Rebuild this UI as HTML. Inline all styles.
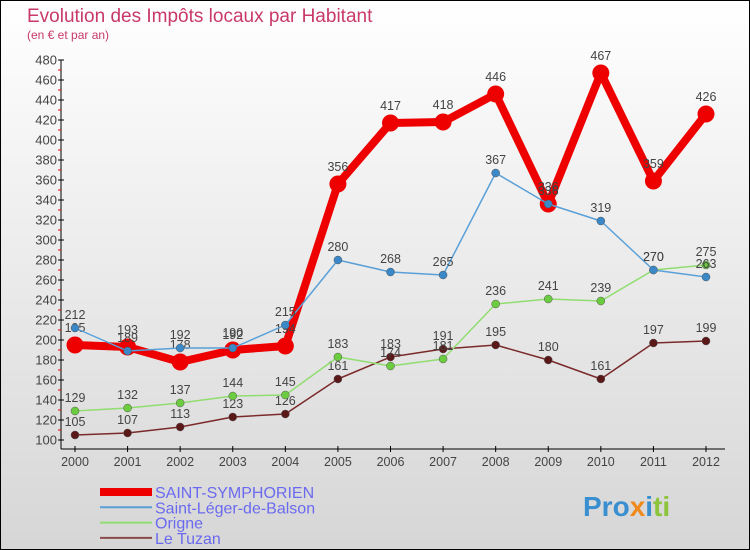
<!DOCTYPE html>
<html><head><meta charset="utf-8"><style>
body{margin:0}
#c{width:750px;height:550px;position:relative;overflow:hidden}
text{font-family:"Liberation Sans",sans-serif}
</style></head><body>
<div id="c">
<svg id="s" width="750" height="550" xmlns="http://www.w3.org/2000/svg">
<defs><linearGradient id="bg" x1="0" y1="0" x2="0" y2="1"><stop offset="0" stop-color="#ffffff"/><stop offset="1" stop-color="#d6d6d6"/></linearGradient></defs>
<rect x="0.5" y="0.5" width="749" height="549" fill="url(#bg)" stroke="#000"/>
<text x="27" y="22" font-size="19" fill="#c8396a">Evolution des Impôts locaux par Habitant</text>
<text x="27" y="39" font-size="12" fill="#c8396a">(en € et par an)</text>
<g id="axes"></g><g id="series"></g><g id="legend"></g>
<text x="583" y="516" font-size="28" font-weight="bold"><tspan fill="#3a8fd0">Pro</tspan><tspan fill="#f08a1c">x</tspan><tspan fill="#3a8fd0">i</tspan><tspan fill="#8cc43c">ti</tspan></text>
</svg></div>
<script>
const years=[2000,2001,2002,2003,2004,2005,2006,2007,2008,2009,2010,2011,2012];
const yTicks=[100,120,140,160,180,200,220,240,260,280,300,320,340,360,380,400,420,440,460,480];
const saintSymphorien=[195,193,178,190,194,356,417,418,446,336,467,359,426];
const saintLeger=[212,189,192,192,215,280,268,265,367,336,319,270,263];
const origne=[129,132,137,144,145,183,174,181,236,241,239,270,275];
const leTuzan=[105,107,113,123,126,161,183,191,195,180,161,197,199];
const seriesNames=["SAINT-SYMPHORIEN","Saint-Léger-de-Balson","Origne","Le Tuzan"];
const NS="http://www.w3.org/2000/svg";
const X=i=>75+i*(706-75)/(years.length-1);
const Y=v=>440-(v-100);
function mk(t,a,p){const e=document.createElementNS(NS,t);for(const k in a)e.setAttribute(k,a[k]);p.appendChild(e);return e;}
const ax=document.getElementById('axes');
let e=mk('line',{x1:61,y1:60,x2:61,y2:449,stroke:'#000'},ax);

e=mk('line',{x1:61,y1:449,x2:725,y2:449,stroke:'#000'},ax);

yTicks.forEach((v,i)=>{mk('line',{x1:58,y1:Y(v),x2:64,y2:Y(v),stroke:'#000'},ax);
 if(i<yTicks.length-1)mk('line',{x1:58,y1:Y(v+10),x2:61,y2:Y(v+10),stroke:'#e00'},ax);
 const t=mk('text',{x:57,y:Y(v)+4.5,'font-size':13,fill:'#444','text-anchor':'end'},ax);t.textContent=v;
 });
years.forEach((y,i)=>{mk('line',{x1:X(i),y1:446,x2:X(i),y2:452,stroke:'#000'},ax);
 const t=mk('text',{x:X(i),y:466,'font-size':12.5,fill:'#444','text-anchor':'middle'},ax);t.textContent=y;
 });
const sg=document.getElementById('series');
const defs=[[saintSymphorien,'#ee0000','#ee0000',8,8.5,'series-saint-symphorien'],[leTuzan,'#7a2a2a','#5a1818',1.5,4,'series-le-tuzan'],[origne,'#90dd70','#6ccc40',1.5,4,'series-origne'],[saintLeger,'#5aa0d8','#3a88c8',1.5,4,'series-saint-leger']];
defs.forEach(d=>{
 const g=mk('g',{},sg);
 const pts=d[0].map((v,i)=>X(i)+','+Y(v)).join(' ');
 mk('polyline',{points:pts,fill:'none',stroke:d[1],'stroke-width':d[3],'stroke-linejoin':'round'},g);
 d[0].forEach((v,i)=>{const c=mk('circle',{cx:X(i),cy:Y(v),r:d[4],fill:d[2],stroke:d[3]>2?'none':'#555','stroke-width':0.5},g);
  
  const t=mk('text',{x:X(i),y:Y(v)-(d[3]>2?13:9),'font-size':12.5,fill:'#444','text-anchor':'middle'},g);t.textContent=v;
  });
});
const lg=document.getElementById('legend');
const lc=[['#ee0000',8],['#5aa0d8',2],['#90dd70',2],['#8a4a4a',2]];
seriesNames.forEach((n,i)=>{const y=492+i*15.3;
 const g=mk('g',{},lg);
 mk('line',{x1:100,y1:y,x2:152,y2:y,stroke:lc[i][0],'stroke-width':lc[i][1]},g);
 const t=mk('text',{x:155,y:y+6,'font-size':16,fill:'#6a6af0'},g);t.textContent=n;});
</script>
</body></html>
